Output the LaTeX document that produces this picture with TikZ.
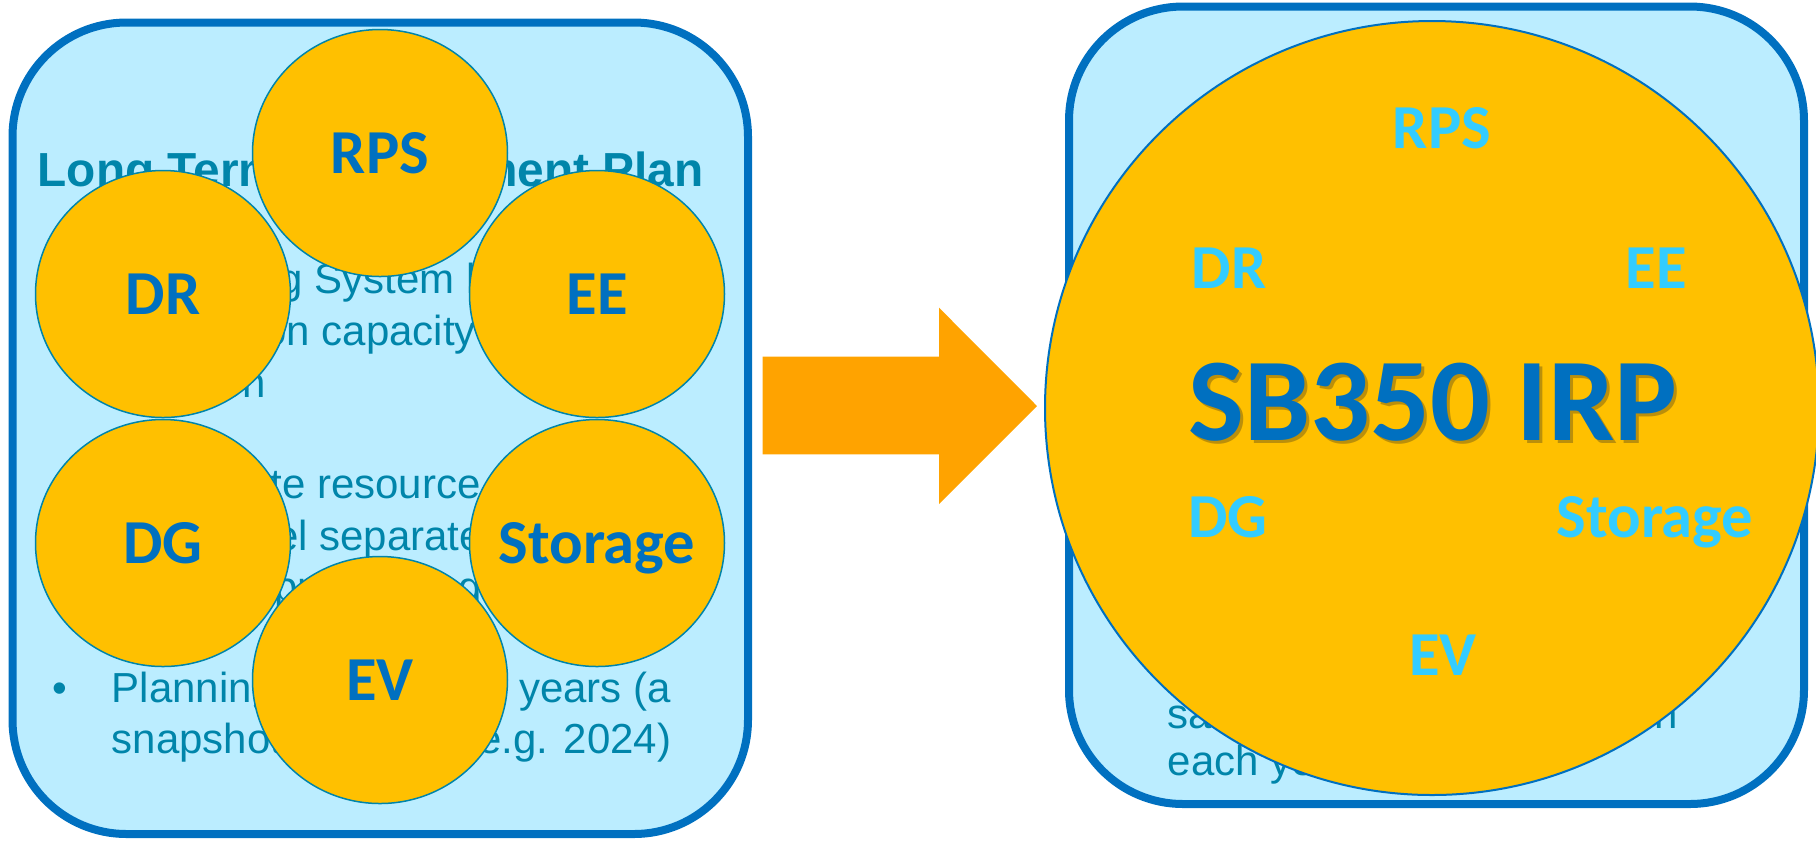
\documentclass[tikz,border=0pt]{standalone}
\usepackage{fontspec}
\setmainfont{Liberation Sans}
\newfontfamily\calibri{Carlito}
\usetikzlibrary{shapes.geometric}

\definecolor{frameblue}{RGB}{0,112,192}
\definecolor{paleblue}{RGB}{187,237,255}
\definecolor{tealtext}{RGB}{0,133,170}
\definecolor{gold}{RGB}{255,192,0}
\definecolor{skytext}{RGB}{51,204,255}
\definecolor{arroworange}{RGB}{255,163,0}
\definecolor{shadowbrown}{RGB}{120,95,20}

\begin{document}
\begin{tikzpicture}[x=0.1mm,y=-0.1mm,
      panel/.style ={draw=frameblue, line width=0.8mm, fill=paleblue, rounded corners=11.4mm},
      bodytext/.style ={anchor=base west, inner sep=0pt, text=tealtext, font=\fontsize{11.95}{14}\selectfont},
      headtext/.style ={bodytext, font=\bfseries\fontsize{13.6}{16}\selectfont},
      topic/.style ={ellipse, draw=tealtext, line width=0.15mm, fill=gold, inner sep=0pt,
                     minimum width=25.5mm, minimum height=24.7mm, text=frameblue,
                     font=\calibri\bfseries\fontsize{17.8}{20}\selectfont, text height=4mm, text depth=0pt},
      sublabel/.style ={inner sep=0pt, text=skytext, font=\calibri\bfseries\fontsize{17.8}{20}\selectfont,
                     text height=4mm, text depth=0pt},
      bigtitle/.style ={inner sep=0pt, font=\calibri\bfseries\fontsize{33.6}{36}\selectfont,
                     text height=7.6mm, text depth=0pt}]
   \useasboundingbox (0,0) rectangle (1816,841);

   % long term procurement plan
   \draw[panel] (12.5,22.5) rectangle (748,834);
   \node[headtext] (ltpp) at (37,186.7) {Long Term Procurement Plan};
   \node[bodytext] (dot1) at (52,293) {\textbullet};
   \node[bodytext] (need1) at (111,293) {Assessing System level};
   \node[bodytext] (need2) at (111,345) {generation capacity need for};
   \node[bodytext] (need3) at (111,397) {decision};
   \node[bodytext] (dot2) at (52,498) {\textbullet};
   \node[bodytext] (aggr1) at (111,498) {Aggregate resource needs};
   \node[bodytext] (aggr2) at (111,550) {and model separately in};
   \node[bodytext] (aggr3) at (111,601) {different proceedings};
   \node[bodytext] (dot3) at (52,702) {\textbullet};
   \node[bodytext] (span1) at (111,702) {Planning horizon \textasciitilde20 years (a};
   \node[bodytext] (span2) at (111,753) {snapshot of a year, e.g. 2024)};

   \node[topic] (rps) at (380,153) {RPS};
   \node[topic] (dr) at (163,294) {DR};
   \node[topic] (ee) at (597,294) {EE};
   \node[topic] (dg) at (163,543) {DG};
   \node[topic] (storage) at (597,543) {\makebox[0pt]{Storage}};
   \node[topic] (ev) at (380,680) {EV};

   \fill[arroworange] (762.7,356.7) -- (939,356.7) -- (939,307.7) -- (1037,406)
        -- (939,504) -- (939,454.3) -- (762.7,454.3) -- cycle;

   % integrated resource plan
   \draw[panel] (1069,6.5) rectangle (1804,804);
   \node[bodytext] (same1) at (1167,728) {same resolution as LTPP in};
   \node[bodytext] (same2) at (1167,775) {each year};

   \node[circle, draw=frameblue, line width=0.2mm, fill=gold, minimum size=77.4mm] (irp) at (1432,408) {};
   \node[sublabel] (irprps) at (1442,128) {RPS};
   \node[sublabel] (irpdr) at (1229,268) {DR};
   \node[sublabel] (irpee) at (1656,268) {EE};
   \node[sublabel] (irpdg) at (1228,517) {DG};
   \node[sublabel] (irpstorage) at (1655,517) {Storage};
   \node[sublabel] (irpev) at (1443,655) {EV};
   \node[bigtitle, text=shadowbrown, opacity=0.5] (irpshadow) at (1436,405) {SB350 IRP};
   \node[bigtitle, text=frameblue] (irpname) at (1433,402) {SB350 IRP};
 \end{tikzpicture}
\end{document}
